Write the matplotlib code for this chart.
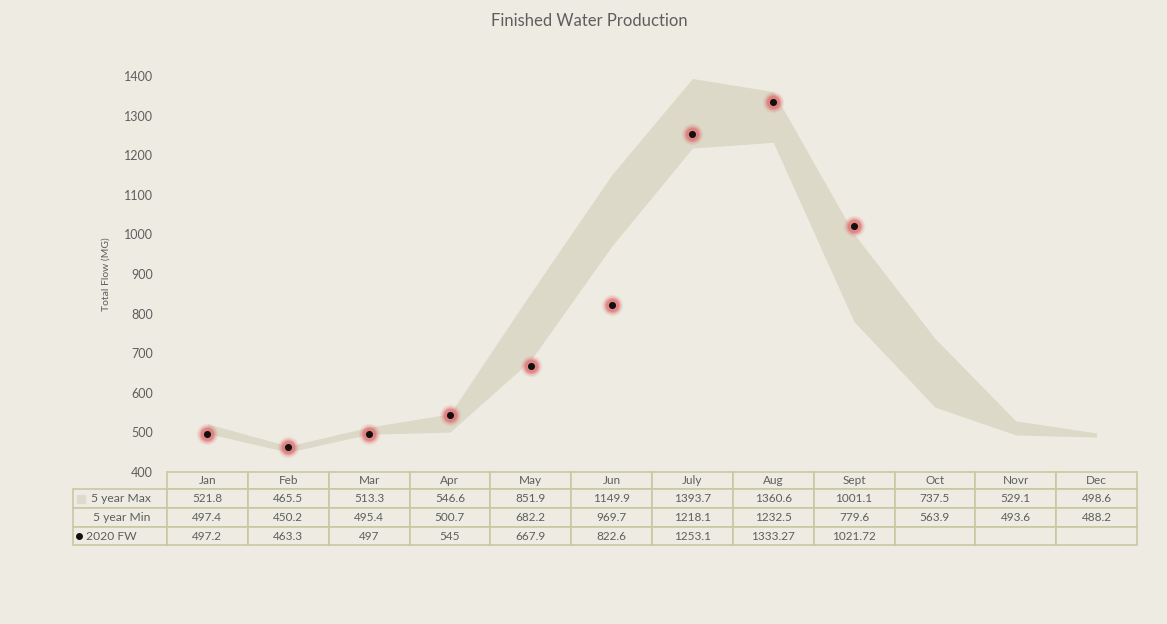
import matplotlib
matplotlib.use("Agg")
import matplotlib.pyplot as plt
from matplotlib.table import Table
import numpy as np

months = ["Jan", "Feb", "Mar", "Apr", "May", "Jun", "July", "Aug", "Sept", "Oct", "Novr", "Dec"]
max5 = [521.8, 465.5, 513.3, 546.6, 851.9, 1149.9, 1393.7, 1360.6, 1001.1, 737.5, 529.1, 498.6]
min5 = [497.4, 450.2, 495.4, 500.7, 682.2, 969.7, 1218.1, 1232.5, 779.6, 563.9, 493.6, 488.2]
fw2020 = [497.2, 463.3, 497, 545, 667.9, 822.6, 1253.1, 1333.27, 1021.72]
fw2020_labels = ["497.2", "463.3", "497", "545", "667.9", "822.6", "1253.1", "1333.27", "1021.72", "", "", ""]
row_labels = ["5 year Max", "5 year Min", "2020 FW"]
yticks = [400, 500, 600, 700, 800, 900, 1000, 1100, 1200, 1300, 1400]
title = "Finished Water Production"
ylabel = "Total Flow (MG)"

BG = "#EEEBE2"
BAND = "#DCD9C8"
GRID = "#C9C8A0"
TXT = "#5E5E5E"
FONT = "Lato"

W, H = 1167, 624
fig = plt.figure(figsize=(W / 100, H / 100), dpi=100, facecolor=BG)
plt.rcParams["font.family"] = [FONT, "DejaVu Sans"]

ax_l, ax_r, ax_t, ax_b = 167, 1137, 76, 472
ax = fig.add_axes([ax_l / W, 1 - ax_b / H, (ax_r - ax_l) / W, (ax_b - ax_t) / H])
ax.set_facecolor(BG)
x = np.arange(len(months))
ax.set_xlim(-0.5, len(months) - 0.5)
ax.set_ylim(400, 1400)

ax.fill_between(x, min5, max5, color=BAND, linewidth=0, zorder=1)

xf = x[:len(fw2020)]
for s, a in [(240, 0.10), (180, 0.20), (130, 0.38), (90, 0.6)]:
    ax.scatter(xf, fw2020, s=s, color="#E07070", alpha=a, linewidths=0, zorder=3)
ax.scatter(xf, fw2020, s=26, color="#111111", linewidths=0, zorder=4)

for sp in ax.spines.values():
    sp.set_visible(False)
ax.set_xticks([])
ax.set_yticks(yticks)
ax.set_yticklabels([str(v) for v in yticks], fontsize=9, color=TXT)
ax.tick_params(axis="y", length=0, pad=10)
ax.set_ylabel(ylabel, fontsize=7.5, color=TXT, labelpad=10)

# table
tab_left, tab_top, tab_bot = 73, 472, 545
axw, axh = ax_r - ax_l, ax_b - ax_t
bbox = [(tab_left - ax_l) / axw, -(tab_bot - ax_b) / axh, (ax_r - tab_left) / axw, (tab_bot - ax_b) / axh]
tbl = Table(ax, bbox=bbox)
lab_w = (ax_l - tab_left)
col_w = axw / len(months)
row_h = [17, 19, 19, 18]
rows_text = [[f"{v:g}" for v in max5], [f"{v:g}" for v in min5], fw2020_labels]
for j, m in enumerate(months):
    tbl.add_cell(0, j + 1, width=col_w, height=row_h[0], text=m, loc="center",
                 facecolor=BG, edgecolor=GRID)
for i in range(3):
    tbl.add_cell(i + 1, 0, width=lab_w, height=row_h[i + 1], text="", loc="left",
                 facecolor=BG, edgecolor=GRID)
    for j in range(len(months)):
        tbl.add_cell(i + 1, j + 1, width=col_w, height=row_h[i + 1], text=rows_text[i][j],
                     loc="center", facecolor=BG, edgecolor=GRID)
tbl.add_cell(0, 0, width=lab_w, height=row_h[0], text="", facecolor=BG, edgecolor="none")
tbl.auto_set_font_size(False)
tbl.set_fontsize(8.5)
for (r, cidx), cell in tbl.get_celld().items():
    cell.set_linewidth(1.2)
    cell.get_text().set_color(TXT)
    cell.get_text().set_fontfamily([FONT, "DejaVu Sans"])
ax.add_table(tbl)

# row labels with legend keys
def px2ax(px, py):
    return (px - ax_l) / axw, (ax_b - py) / axh

row_centers = [499, 517.5, 536]
text_x = [91, 93, 86]
for lab, yc, tx in zip(row_labels, row_centers, text_x):
    ax.text(*px2ax(tx, yc), lab, transform=ax.transAxes, fontsize=8.7, color=TXT,
            ha="left", va="center", clip_on=False)
ax.scatter(*px2ax(81, 499), marker="s", s=28, color="#DDDBCD", transform=ax.transAxes,
           clip_on=False, zorder=5)
ax.scatter(*px2ax(79, 536), marker="o", s=16, color="#111111", transform=ax.transAxes,
           clip_on=False, zorder=5)

fig.text(589 / W, 1 - 21 / H, title, ha="center", va="center", fontsize=12, color=TXT)

fig.savefig("out.png", dpi=100, facecolor=BG)
